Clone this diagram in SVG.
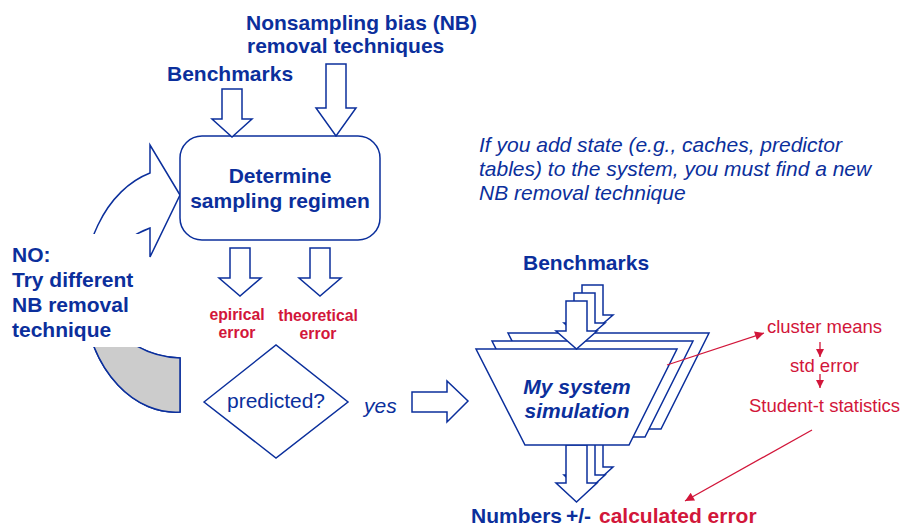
<svg xmlns="http://www.w3.org/2000/svg" width="904" height="531" viewBox="0 0 904 531">
  <style>
    text { font-family: "Liberation Sans", Arial, sans-serif; }
    .blk { fill: #ffffff; stroke: #0b2f9c; stroke-width: 1.5; stroke-linejoin: miter; }
    .t-blue { fill: #0b2f9c; font-weight: bold; font-size: 21px; }
    .t-red { fill: #d2163a; font-weight: bold; }
    .t-it { fill: #0b2f9c; font-style: italic; font-size: 21px; }
    .t-note { fill: #d2163a; font-size: 18.5px; text-anchor: middle; }
    .mid { text-anchor: middle; }
    .red-line { stroke: #d2163a; stroke-width: 1.3; fill: none; }
  </style>
  <defs>
    <marker id="headBig" viewBox="0 0 10 10" refX="10" refY="5" markerWidth="13" markerHeight="9" markerUnits="userSpaceOnUse" orient="auto">
      <path d="M0,0 L10,5 L0,10 Z" fill="#d2163a"/>
    </marker>
    <marker id="headSmall" viewBox="0 0 10 10" refX="10" refY="5" markerWidth="8" markerHeight="8" markerUnits="userSpaceOnUse" orient="auto">
      <path d="M0,0 L10,5 L0,10 Z" fill="#d2163a"/>
    </marker>
    <path id="loopArrow" d="M180,195 L150,145 L150,173 A92,122 0 0 0 180,412 L180,358 A82,68 0 0 1 150,228 L150,257 Z"/>
    <clipPath id="lowerPart">
      <rect x="0" y="347" width="300" height="120"/>
    </clipPath>
  </defs>

  <!-- retry loop: curved block arrow back into the regimen box -->
  <g id="retry-loop">
    <use href="#loopArrow" class="blk"/>
    <use href="#loopArrow" clip-path="url(#lowerPart)" fill="#cccccc" stroke="#0b2f9c" stroke-width="1.5"/>
  </g>

  <g id="retry-label">
    <rect x="0" y="234" width="143" height="113" fill="#ffffff"/>
    <text class="t-blue" x="12" y="262">NO:</text>
    <text class="t-blue" x="12" y="287">Try different</text>
    <text class="t-blue" x="12" y="312">NB removal</text>
    <text class="t-blue" x="12" y="337">technique</text>
  </g>

  <g id="inputs-top">
    <text class="t-blue" x="246" y="30">Nonsampling bias (NB)</text>
    <text class="t-blue" x="247" y="53">removal techniques</text>
    <text class="t-blue" x="167" y="81">Benchmarks</text>
  </g>

  <g id="regimen">
    <rect class="blk" x="180" y="136" width="200" height="104" rx="22" ry="22"/>
    <text class="t-blue mid" x="280" y="183">Determine</text>
    <text class="t-blue mid" x="280" y="208">sampling regimen</text>
  </g>

  <g id="errors">
    <text class="t-red mid" font-size="15.75" x="237" y="320">epirical</text>
    <text class="t-red mid" font-size="15.75" x="237" y="338">error</text>
    <text class="t-red mid" font-size="15.75" x="318" y="321">theoretical</text>
    <text class="t-red mid" font-size="15.75" x="318" y="339">error</text>
  </g>

  <g id="predicted">
    <polygon class="blk" points="204,402 276,345 348,402 276,458"/>
    <text class="mid" x="276" y="408" font-size="21" fill="#0b2f9c">predicted?</text>
    <text class="t-it" x="364" y="413">yes</text>
  </g>

  <g id="note">
    <text class="t-it" x="479" y="152">If you add state (e.g., caches, predictor</text>
    <text class="t-it" x="479" y="176">tables) to the system, you must find a new</text>
    <text class="t-it" x="479" y="200">NB removal technique</text>
  </g>

  <!-- stacked simulation runs, back to front -->
  <g id="simulation">
    <text class="t-blue" x="523" y="270">Benchmarks</text>
    <g id="run-3">
      <polygon class="blk" points="582,429 603,429 603,467 613,467 592,486 572,467 582,467"/>
      <polygon class="blk" points="508,333 709,333 661,429 557,429"/>
      <polygon class="blk" points="582,285 603,285 603,315 613,315 592,333 572,315 582,315"/>
    </g>
    <g id="run-2">
      <polygon class="blk" points="574,437 595,437 595,475 605,475 584,494 564,475 574,475"/>
      <polygon class="blk" points="492,341 693,341 645,437 541,437"/>
      <polygon class="blk" points="574,293 595,293 595,323 605,323 584,341 564,323 574,323"/>
    </g>
    <g id="run-1">
      <polygon class="blk" points="566,445 587,445 587,483 597,483 576.5,502 556,483 566,483"/>
      <polygon class="blk" points="476,349 677,349 629,445 525,445"/>
      <polygon class="blk" points="566,301 587,301 587,331 597,331 576.5,349 556,331 566,331"/>
      <text class="t-blue mid" font-style="italic" x="577" y="394">My system</text>
      <text class="t-blue mid" font-style="italic" x="577" y="418">simulation</text>
    </g>
  </g>

  <g id="statistics">
    <text class="t-note" x="824.5" y="333">cluster means</text>
    <text class="t-note" x="824.5" y="372">std error</text>
    <text class="t-note" x="824.5" y="412">Student-t statistics</text>
  </g>

  <g id="result">
    <text class="t-blue" x="471" y="523">Numbers</text>
    <text class="t-blue" x="566" y="523">+/-</text>
    <text class="t-red" font-size="21" x="599" y="523">calculated error</text>
  </g>

  <!-- block arrows and red pointers, drawn last so they sit on top -->
  <g id="connectors">
    <polygon class="blk" points="222,89 242,89 242,119 252,119 232,137 212,119 222,119"/>
    <polygon class="blk" points="326,64 346,64 346,108 356,108 336,136 316,108 326,108"/>
    <polygon class="blk" points="230,248 250,248 250,278 261,278 240,296 219,278 230,278"/>
    <polygon class="blk" points="310,248 330,248 330,278 341,278 320,296 299,278 310,278"/>
    <polygon class="blk" points="412,392 447,392 447,381 468,401 447,422 447,412 412,412"/>
    <line class="red-line" x1="667" y1="365" x2="764" y2="333" marker-end="url(#headBig)"/>
    <line class="red-line" x1="820" y1="342" x2="820" y2="357" marker-end="url(#headSmall)"/>
    <line class="red-line" x1="820" y1="374" x2="820" y2="388" marker-end="url(#headSmall)"/>
    <line class="red-line" x1="812" y1="430" x2="685" y2="501" marker-end="url(#headBig)"/>
  </g>
</svg>
